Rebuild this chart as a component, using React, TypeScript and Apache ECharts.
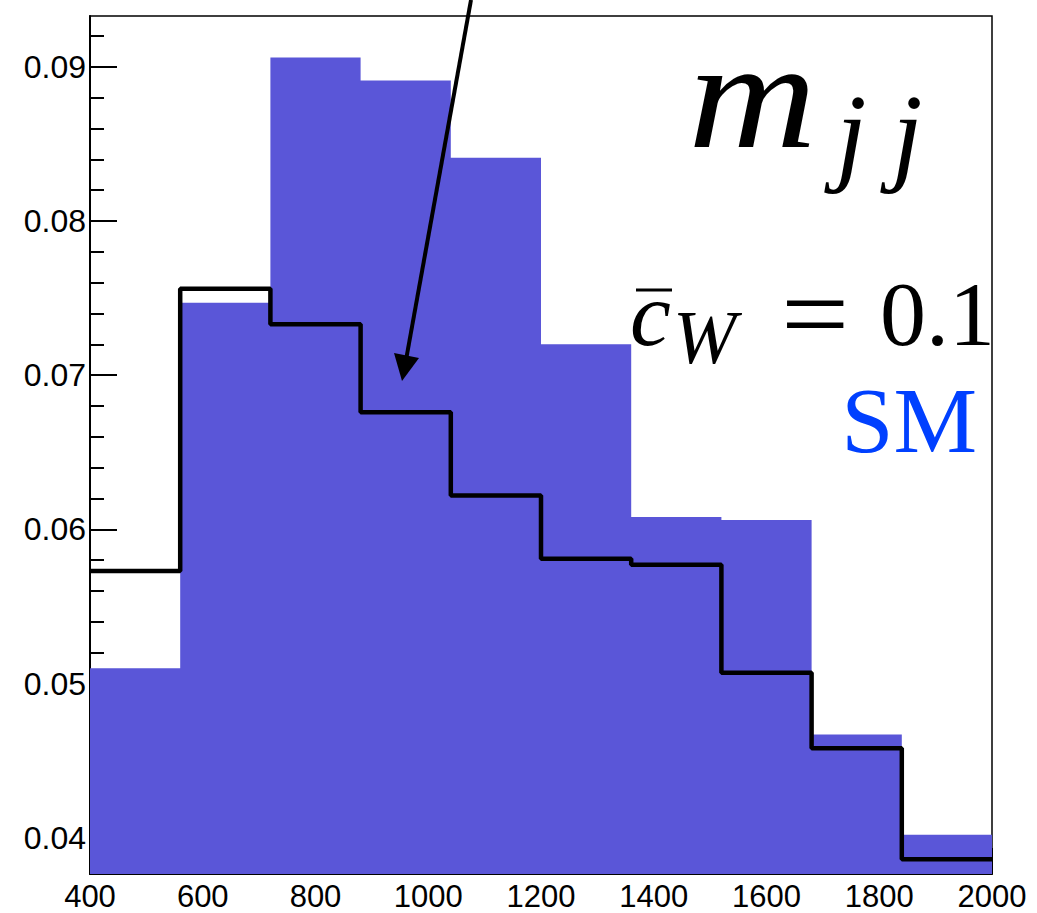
import React, { useEffect, useRef } from "react";
import * as echarts from "echarts";

const binEdges = [400, 560, 720, 880, 1040, 1200, 1360, 1520, 1680, 1840, 2000];
const smValues = [0.0510, 0.0747, 0.0906, 0.0891, 0.0841, 0.0720, 0.0608, 0.0606, 0.0467, 0.0402];
const cwValues = [0.0573, 0.0756, 0.0733, 0.0676, 0.0622, 0.0581, 0.0577, 0.0507, 0.0458, 0.0386];
const yMajorTicks = [0.04, 0.05, 0.06, 0.07, 0.08, 0.09];
const yMinorTicks = [0.038, 0.042, 0.044, 0.046, 0.048, 0.052, 0.054, 0.056, 0.058, 0.062, 0.064, 0.066, 0.068, 0.072, 0.074, 0.076, 0.078, 0.082, 0.084, 0.086, 0.088, 0.092];
const X_MIN = 400;
const X_MAX = 2000;
const Y_MIN = 0.03765;
const Y_MAX = 0.09329;

function histData(values: number[]) {
  const d: number[][] = values.map((v, i) => [binEdges[i], v]);
  d.push([binEdges[binEdges.length - 1], values[values.length - 1]]);
  return d;
}

const SERIF = '"Liberation Serif", "Times New Roman", serif';
const SANS = '"Liberation Sans", Arial, sans-serif';

export default function App() {
  const ref = useRef<HTMLDivElement>(null);
  useEffect(() => {
    document.body.style.margin = "0";
    const chart = echarts.init(ref.current!, null, { renderer: "svg" });
    const baseY = {
      type: "value",
      min: Y_MIN,
      max: Y_MAX,
      position: "left",
      splitLine: { show: false },
    };
    chart.setOption({
      animation: false,
      backgroundColor: "#fff",
      grid: {
        left: 90,
        top: 16,
        right: 45,
        bottom: 39,
        show: true,
        borderColor: "#000",
        borderWidth: 1.5,
        backgroundColor: "transparent",
      },
      xAxis: {
        type: "value",
        min: X_MIN,
        max: X_MAX,
        interval: 200,
        axisLine: { onZero: false, lineStyle: { color: "#000", width: 2 } },
        axisTick: { inside: true, length: 26, lineStyle: { color: "#000", width: 2 } },
        minorTick: { show: true, splitNumber: 4, length: 13, lineStyle: { color: "#000", width: 2 } },
        splitLine: { show: false },
        minorSplitLine: { show: false },
        axisLabel: {
          color: "#000",
          fontSize: 31,
          lineHeight: 28,
          fontFamily: SANS,
          margin: 8,
          formatter: (v: number) => String(v),
        },
      },
      yAxis: [
        {
          ...baseY,
          axisLine: { show: true, lineStyle: { color: "#000", width: 2 } },
          axisTick: {
            show: true,
            inside: true,
            length: 27,
            customValues: yMajorTicks,
            lineStyle: { color: "#000", width: 2 },
          },
          axisLabel: {
            color: "#000",
            fontSize: 32,
            fontFamily: SANS,
            margin: 4,
            customValues: yMajorTicks,
            formatter: (v: number) => v.toFixed(2),
          },
        },
        {
          ...baseY,
          axisLine: { show: false },
          axisTick: {
            show: true,
            inside: true,
            length: 14,
            customValues: yMinorTicks,
            lineStyle: { color: "#000", width: 2 },
          },
          axisLabel: { show: false },
        },
      ],
      series: [
        {
          name: "SM",
          type: "line",
          step: "end",
          data: histData(smValues),
          showSymbol: false,
          symbol: "none",
          lineStyle: { width: 0, opacity: 0 },
          areaStyle: { color: "#5a56d8", opacity: 1, origin: "start" },
          z: 2,
        },
        {
          name: "cW",
          type: "line",
          step: "end",
          data: histData(cwValues),
          showSymbol: false,
          symbol: "none",
          lineStyle: { width: 4.5, color: "#000" },
          z: 3,
        },
      ],
      graphic: [
        {
          type: "line",
          shape: { x1: 471, y1: 0, x2: 406, y2: 360 },
          style: { stroke: "#000", lineWidth: 4 },
          z: 10,
        },
        {
          type: "polygon",
          shape: { points: [[394, 353], [419, 358], [402, 381]] },
          style: { fill: "#000" },
          z: 10,
        },
        {
          type: "text",
          x: 688,
          y: 95,
          scaleX: 1.15,
          style: { text: "m", font: `italic 155px ${SERIF}`, fill: "#000", verticalAlign: "middle" },
          z: 10,
        },
        {
          type: "text",
          x: 836,
          y: 134,
          style: { text: "j", font: `italic 110px ${SERIF}`, fill: "#000", verticalAlign: "middle" },
          z: 10,
        },
        {
          type: "text",
          x: 892,
          y: 134,
          style: { text: "j", font: `italic 110px ${SERIF}`, fill: "#000", verticalAlign: "middle" },
          z: 10,
        },
        {
          type: "text",
          x: 630,
          y: 314,
          style: { text: "c", font: `italic 92px ${SERIF}`, fill: "#000", verticalAlign: "middle" },
          z: 10,
        },
        {
          type: "line",
          shape: { x1: 636, y1: 290, x2: 672, y2: 290 },
          style: { stroke: "#000", lineWidth: 3 },
          z: 10,
        },
        {
          type: "text",
          x: 673,
          y: 337,
          style: { text: "W", font: `italic 76px ${SERIF}`, fill: "#000", verticalAlign: "middle" },
          z: 10,
        },
        {
          type: "text",
          x: 781,
          y: 314,
          scaleX: 1.1,
          style: { text: "=", font: `110px ${SERIF}`, fill: "#000", verticalAlign: "middle" },
          z: 10,
        },
        {
          type: "text",
          x: 880,
          y: 314,
          style: { text: "0.1", font: `92px ${SERIF}`, fill: "#000", verticalAlign: "middle" },
          z: 10,
        },
        {
          type: "text",
          x: 977,
          y: 420,
          style: { text: "SM", font: `94px ${SERIF}`, fill: "#0040ff", verticalAlign: "middle", align: "right" },
          z: 10,
        },
      ],
    });
    return () => chart.dispose();
  }, []);
  return (
    <div
      ref={ref}
      style={{ position: "absolute", left: 0, top: 0, width: 1037, height: 913 }}
    />
  );
}
